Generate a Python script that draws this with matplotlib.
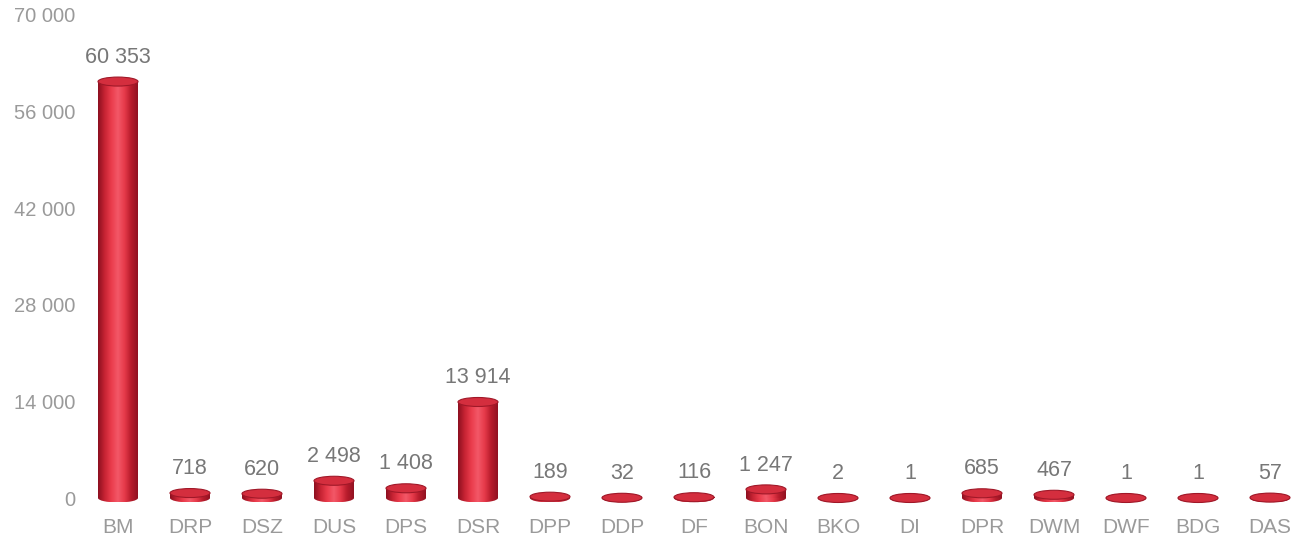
import numpy as np
import matplotlib
matplotlib.use("Agg")
import matplotlib.pyplot as plt
from matplotlib.patches import Ellipse, Rectangle
from matplotlib.colors import LinearSegmentedColormap
from matplotlib.ticker import FuncFormatter

categories = ["BM", "DRP", "DSZ", "DUS", "DPS", "DSR", "DPP", "DDP", "DF", "BON",
              "BKO", "DI", "DPR", "DWM", "DWF", "BDG", "DAS"]
values = [60353, 718, 620, 2498, 1408, 13914, 189, 32, 116, 1247,
          2, 1, 685, 467, 1, 1, 57]
yticks = [0, 14000, 28000, 42000, 56000, 70000]

plt.rcParams["font.family"] = ["Liberation Sans", "DejaVu Sans"]

W, H = 1302, 534
fig = plt.figure(figsize=(W / 100, H / 100), dpi=100)
ax_left, ax_bottom_px = 84, 512
ax = fig.add_axes([ax_left / W, (H - ax_bottom_px) / H, (W - ax_left) / W, ax_bottom_px / H])

# pixel geometry of the cylinders
spacing_px = 72.0
first_px = 118.0
zero_px = 498.0
px_per_unit = 0.0069

x_lo = (ax_left - first_px) / spacing_px
x_hi = (W - first_px) / spacing_px
y_hi = zero_px / px_per_unit
y_lo = -(ax_bottom_px - zero_px) / px_per_unit

bar_w = 40 / spacing_px
ell_h = 9 / px_per_unit

cyl = LinearSegmentedColormap.from_list(
    "cyl", ["#8e1020", "#c82434", "#ea3c4c", "#f35868", "#e63a4a", "#b81c2c", "#921222"])
grad = np.linspace(0, 1, 64).reshape(1, -1)

for i, v in enumerate(values):
    x0, x1 = i - bar_w / 2, i + bar_w / 2
    # bottom cap (lower half visible under the body)
    base = Ellipse((i, 0), bar_w, ell_h, facecolor="none", edgecolor="none")
    ax.add_patch(base)
    im = ax.imshow(grad, cmap=cyl, extent=(x0, x1, -ell_h / 2, ell_h / 2),
                   aspect="auto", zorder=2, interpolation="bilinear")
    im.set_clip_path(base)
    # body
    if v > 0:
        body = Rectangle((x0, 0), bar_w, v, facecolor="none", edgecolor="none")
        ax.add_patch(body)
        im2 = ax.imshow(grad, cmap=cyl, extent=(x0, x1, 0, v),
                        aspect="auto", zorder=2, interpolation="bilinear")
        im2.set_clip_path(body)
    # top cap
    ax.add_patch(Ellipse((i, v), bar_w, ell_h, facecolor="#d42e3e",
                         edgecolor="#a01828", linewidth=0.8, zorder=3))
    label = f"{v:,}".replace(",", " ")
    ax.annotate(label, (i, v), xytext=(0, 10), textcoords="offset points",
                ha="center", va="bottom", fontsize=15.5, color="#777777", zorder=4)

ax.set_xlim(x_lo, x_hi)
ax.set_ylim(y_lo, y_hi)

ax.set_yticks(yticks)
ax.yaxis.set_major_formatter(FuncFormatter(lambda v, p: f"{int(v):,}".replace(",", " ")))
ax.set_xticks(range(len(categories)))
ax.set_xticklabels(categories)
ax.tick_params(axis="y", length=0, pad=6, labelsize=14.5, labelcolor="#9a9a9a")
ax.tick_params(axis="x", length=0, pad=4, labelsize=15, labelcolor="#9a9a9a")
for s in ax.spines.values():
    s.set_visible(False)
ax.set_facecolor("white")

fig.savefig("out.png", dpi=100, facecolor="white")
